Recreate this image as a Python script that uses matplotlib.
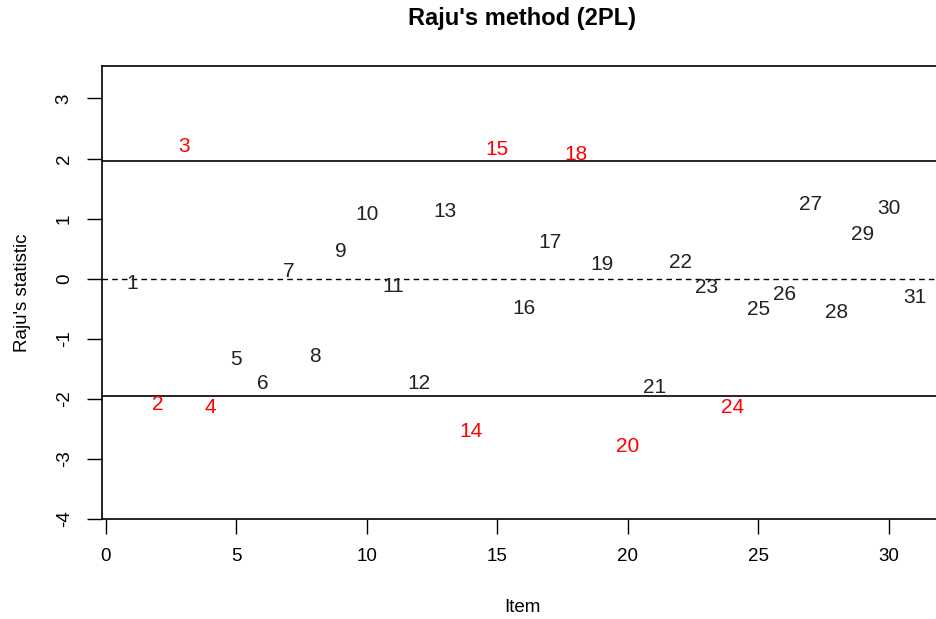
import matplotlib
matplotlib.use("Agg")
import matplotlib.pyplot as plt

items = list(range(1, 32))
stats = [-0.08, -2.09, 2.20, -2.15, -1.34, -1.74, 0.12, -1.29, 0.45, 1.07,
         -0.13, -1.75, 1.12, -2.55, 2.15, -0.50, 0.60, 2.07, 0.23, -2.79,
         -1.81, 0.27, -0.14, -2.15, -0.52, -0.27, 1.24, -0.57, 0.73, 1.17,
         -0.31]
dif_items = [2, 3, 4, 14, 15, 18, 20, 24]
threshold = 1.96
xticks = [0, 5, 10, 15, 20, 25, 30]
yticks = [-4, -3, -2, -1, 0, 1, 2, 3]

plt.rcParams['font.family'] = ['Liberation Sans', 'DejaVu Sans']

W, H = 936, 619
fig = plt.figure(figsize=(W / 100, H / 100), dpi=100)
left, right, top, bottom = 102, 942, 66, 519
ax = fig.add_axes([left / W, 1 - bottom / H, (right - left) / W, (bottom - top) / H])

for i, s in zip(items, stats):
    ax.text(i, s, str(i), ha='center', va='center', fontsize=15,
            color='red' if i in dif_items else '#222222')

ax.axhline(threshold, color='black', lw=1.2)
ax.axhline(-threshold, color='black', lw=1.2)
ax.axhline(0, color='black', lw=1.0, ls=(0, (4, 3)))

ax.set_xlim(-0.15, (right - 106) / 26.1)
ax.set_ylim(-4, 3.54)
ax.set_xticks(xticks)
ax.set_yticks(yticks)
ax.set_yticklabels([str(t) for t in yticks], rotation=90, va='center')
ax.tick_params(direction='out', length=11, width=1.0, labelsize=13.5, pad=10)
ax.spines['right'].set_visible(False)
for sp in ['left', 'top', 'bottom']:
    ax.spines[sp].set_linewidth(1.2)

ax.set_xlabel('Item', fontsize=13.5, labelpad=24)
ax.set_ylabel("Raju's statistic", fontsize=13.5, labelpad=18)
fig.text((left + right) / 2 / W, 1 - 19 / H, "Raju's method (2PL)",
         ha='center', va='center', fontsize=17, fontweight='bold')

fig.savefig('out.png', dpi=100)
